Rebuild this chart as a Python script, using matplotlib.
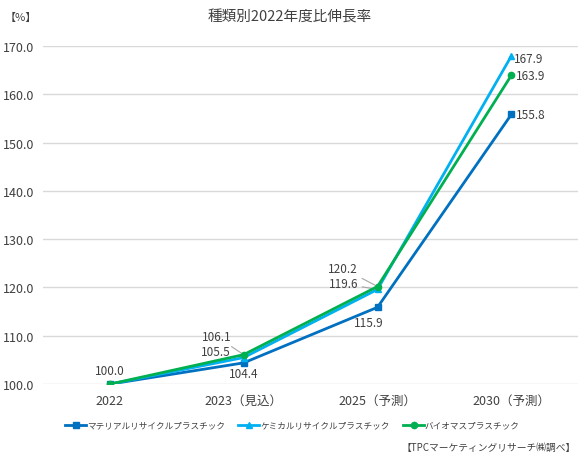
import matplotlib
matplotlib.use('Agg')
import matplotlib.pyplot as plt

plt.rcParams['font.family'] = ['Noto Sans CJK JP', 'DejaVu Sans']

categories = ['2022', '2023（見込）', '2025（予測）', '2030（予測）']
material = [100.0, 104.4, 115.9, 155.8]
chemical = [100.0, 105.5, 119.6, 167.9]
biomass = [100.0, 106.1, 120.2, 163.9]
series_names = ['マテリアルリサイクルプラスチック', 'ケミカルリサイクルプラスチック', 'バイオマスプラスチック']
yticks = [100, 110, 120, 130, 140, 150, 160, 170]

fig = plt.figure(figsize=(5.8, 4.64), dpi=100)
ax = fig.add_axes([0.074, 0.170, 0.923, 0.729])

x = list(range(len(categories)))
ax.plot(x, material, color='#0070C0', lw=2, marker='s', ms=5, label=series_names[0], zorder=3)
ax.plot(x, chemical, color='#00B0F0', lw=2, marker='^', ms=5, label=series_names[1], zorder=4)
ax.plot(x, biomass, color='#00B050', lw=2, marker='o', ms=4.5, label=series_names[2], zorder=5)

ax.set_xlim(-0.5, 3.5)
ax.set_ylim(100, 170)
ax.set_yticks(yticks)
ax.set_yticklabels([f'{v:.1f}' for v in yticks], fontsize=9, color='#404040')
ax.set_xticks(x)
ax.set_xticklabels(categories, fontsize=9, color='#404040')
ax.tick_params(length=0, pad=6)
ax.tick_params(axis='x', pad=7)
ax.grid(axis='y', color='#D9D9D9', lw=1)
ax.set_axisbelow(True)
for s in ax.spines.values():
    s.set_visible(False)

fs = 8.5
tc = '#404040'
# 2022
ax.annotate(f'{material[0]:.1f}', (0, material[0]), xytext=(0, 5), textcoords='offset points',
            ha='center', va='bottom', fontsize=fs, color=tc)
# below points for material
ax.annotate(f'{material[1]:.1f}', (1, material[1]), xytext=(0, -3), textcoords='offset points',
            ha='center', va='top', fontsize=fs, color=tc)
ax.annotate(f'{material[2]:.1f}', (2, material[2]), xytext=(-6, -6), textcoords='offset points',
            ha='center', va='top', fontsize=fs, color=tc)
# leader labels
lead = dict(arrowstyle='-', color='#A6A6A6', lw=0.8, shrinkA=1, shrinkB=2)
offs = {1: (-9, 13, 4), 2: (-14, 13, 4)}
for i in (1, 2):
    dx, dy_b, dy_c = offs[i]
    ax.annotate(f'{biomass[i]:.1f}', (i, biomass[i]), xytext=(dx, dy_b), textcoords='offset points',
                ha='right', va='center', fontsize=fs, color=tc, arrowprops=lead)
    ax.annotate(f'{chemical[i]:.1f}', (i, chemical[i]), xytext=(dx, dy_c), textcoords='offset points',
                ha='right', va='center', fontsize=fs, color=tc, arrowprops=lead)
# 2030
ax.annotate(f'{chemical[3]:.1f}', (3, chemical[3]), xytext=(2, -2), textcoords='offset points',
            ha='left', va='center', fontsize=fs, color=tc)
ax.annotate(f'{biomass[3]:.1f}', (3, biomass[3]), xytext=(3, 0), textcoords='offset points',
            ha='left', va='center', fontsize=fs, color=tc)
ax.annotate(f'{material[3]:.1f}', (3, material[3]), xytext=(3, 0), textcoords='offset points',
            ha='left', va='center', fontsize=fs, color=tc)

fig.text(0.5, 0.962, '種類別2022年度比伸長率', ha='center', va='center', fontsize=10.5, color='#404040')
fig.text(0.008, 0.962, '【%】', ha='left', va='center', fontsize=8, color='#404040')

leg = ax.legend(loc='upper center', bbox_to_anchor=(0.466, -0.085), ncol=3, frameon=False,
                fontsize=6.2, handlelength=2.4, columnspacing=1.6, handletextpad=0.1,
                labelcolor='#404040')
fig.text(0.993, 0.035, '【TPCマーケティングリサーチ㈱調べ】', ha='right', va='center', fontsize=7, color='#404040')

fig.savefig('out.png', dpi=100)
